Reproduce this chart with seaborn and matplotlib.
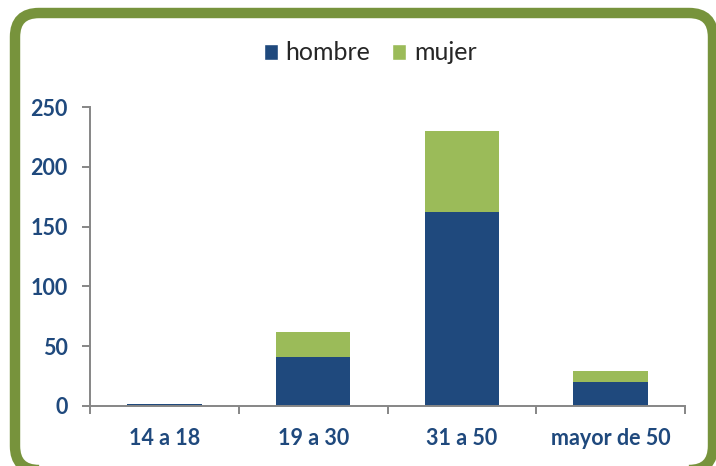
import numpy as np
import pandas as pd
import seaborn as sns
import matplotlib.pyplot as plt
from matplotlib.patches import FancyBboxPatch, Patch
from matplotlib.transforms import IdentityTransform

categories = ['14 a 18', '19 a 30', '31 a 50', 'mayor de 50']
hombre = [2, 41, 162, 20]
mujer = [0, 21, 68, 9]
y_ticks = [0, 50, 100, 150, 200, 250]

COLOR_HOMBRE = '#1F497D'
COLOR_MUJER = '#9BBB59'
COLOR_FRAME = '#77933C'
COLOR_AXIS = '#868686'

sns.set_style('white')
plt.rcParams['font.family'] = ['Lato', 'DejaVu Sans']

df = pd.DataFrame({'grupo': categories, 'hombre': hombre, 'mujer': mujer})
df['total'] = df['hombre'] + df['mujer']

fig = plt.figure(figsize=(7.16, 4.66), dpi=100)
ax = fig.add_axes([90 / 716, 1 - 406 / 466, 595 / 716, 299 / 466])

# stacked bars: total first, hombre on top of it
sns.barplot(ax=ax, data=df, x='grupo', y='total', color=COLOR_MUJER, saturation=1, width=0.5, edgecolor='none')
sns.barplot(ax=ax, data=df, x='grupo', y='hombre', color=COLOR_HOMBRE, saturation=1, width=0.5, edgecolor='none')

ax.set_xlim(-0.5, len(categories) - 0.5)
ax.set_ylim(0, 250)
ax.set_yticks(y_ticks)
ax.set_xlabel('')
ax.set_ylabel('')

for side in ['top', 'right']:
    ax.spines[side].set_visible(False)
for side in ['left', 'bottom']:
    ax.spines[side].set_color(COLOR_AXIS)
    ax.spines[side].set_linewidth(1.4)

ax.tick_params(axis='y', which='major', direction='out', length=6, width=1.4, color=COLOR_AXIS,
               labelcolor=COLOR_HOMBRE, labelsize=15.5, pad=10, left=True)
ax.set_xticks(np.arange(-0.5, len(categories)), minor=True)
ax.tick_params(axis='x', which='minor', direction='out', length=6, width=1.4, color=COLOR_AXIS, bottom=True)
ax.tick_params(axis='x', which='major', length=0, labelcolor=COLOR_HOMBRE, labelsize=15.5, pad=16)
for lbl in ax.get_xticklabels() + ax.get_yticklabels():
    lbl.set_fontweight('bold')

handles = [Patch(facecolor=COLOR_HOMBRE, label='hombre'), Patch(facecolor=COLOR_MUJER, label='mujer')]
fig.legend(handles=handles, loc='center', bbox_to_anchor=(370 / 716, 1 - 53 / 466), ncol=2, frameon=False,
           fontsize=18, handlelength=0.56, handleheight=0.6, handletextpad=0.3, columnspacing=0.9)

# rounded green frame, partly cut by the image edge
frame = FancyBboxPatch((15, -4), 698, 457, boxstyle='round,pad=0,rounding_size=24',
                       transform=IdentityTransform(), fill=False, edgecolor=COLOR_FRAME, linewidth=7.5)
fig.add_artist(frame)

fig.savefig('out.png', dpi=100)
